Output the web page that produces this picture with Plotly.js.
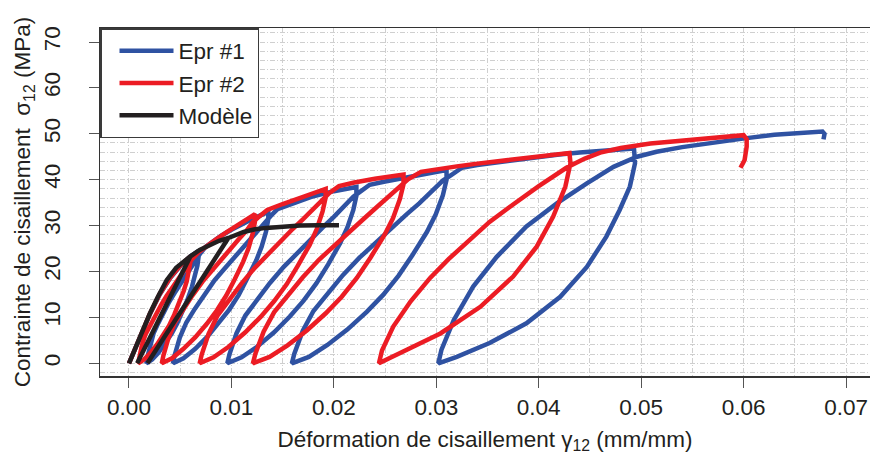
<!DOCTYPE html>
<html>
<head>
<meta charset="utf-8">
<script src="https://cdn.plot.ly/plotly-3.0.1.min.js"></script>
<style>html,body{margin:0;padding:0;background:#fff;}#chart{width:870px;height:458px;}</style>
</head>
<body>
<div id="chart"></div>
<script>
// ---- Data: [strain gamma12, stress sigma12 (MPa)] ----
const seriesNames = ["Epr #1", "Epr #2", "Modèle"];
const seriesColors = ["#2f52a2", "#ec1c24", "#231f20"];

// Epr #1 (blue): loading envelope with unload / reload loops
const epr1Points = [
  [0,0],[0.001,5.3],[0.002,10.5],[0.003,15.0],[0.004,18.5],[0.005,21.2],[0.006,23.3],[0.0068,24.5],
  [0.0068,23.3],[0.00668,21.3],[0.00644,18.9],[0.00615,16.7],[0.00568,13.7],[0.00522,11.1],[0.00471,8.7],[0.00417,6.5],[0.00354,4.3],[0.00287,2.3],[0.00226,0.8],[0.0017,0],
  [0.00178,1.2],[0.00206,4.1],[0.00241,6.6],[0.00287,8.8],[0.00338,11.1],[0.00393,13.4],[0.00445,15.3],[0.00498,17.2],[0.00547,18.9],[0.00591,20.3],[0.00634,21.8],[0.00668,23.2],[0.00695,23.9],
  [0.0075,25.4],[0.008,26.3],[0.009,27.8],[0.010,29.1],[0.011,30.3],[0.012,31.4],[0.013,32.4],[0.0136,33.0],
  [0.0136,31.4],[0.01338,28.7],[0.01295,25.4],[0.01242,22.4],[0.01155,18.5],[0.01072,14.9],[0.00979,11.7],[0.0088,8.8],[0.00765,5.8],[0.00644,3.1],[0.00532,1.1],[0.0043,0],
  [0.00445,1.7],[0.00496,5.6],[0.0056,8.9],[0.00644,11.9],[0.00737,15.0],[0.00836,18.1],[0.00932,20.6],[0.01028,23.1],[0.01118,25.4],[0.01197,27.4],[0.01276,29.4],[0.01338,31.2],[0.01388,32.2],
  [0.0145,33.6],[0.016,34.9],[0.018,36.4],[0.020,37.5],[0.0222,38.4],
  [0.0222,36.5],[0.0219,33.4],[0.02132,29.6],[0.0206,26.1],[0.01943,21.5],[0.01829,17.4],[0.01703,13.6],[0.0157,10.2],[0.01414,6.7],[0.0125,3.6],[0.01099,1.3],[0.0096,0],
  [0.0098,1.9],[0.01049,6.5],[0.01136,10.4],[0.0125,13.8],[0.01376,17.5],[0.01511,21.0],[0.0164,24.0],[0.0177,26.9],[0.01892,29.6],[0.0200,31.9],[0.02107,34.2],[0.0219,36.3],[0.02258,37.4],
  [0.0235,38.9],[0.025,39.6],[0.027,40.5],[0.029,41.3],[0.031,42.1],
  [0.0310,40.0],[0.03064,36.6],[0.02994,32.4],[0.02908,28.6],[0.02768,23.6],[0.02632,19.1],[0.02481,14.9],[0.02321,11.2],[0.02134,7.4],[0.01937,4.0],[0.01756,1.4],[0.0159,0],
  [0.01614,2.1],[0.01697,7.1],[0.01801,11.4],[0.01937,15.2],[0.02088,19.2],[0.0225,23.0],[0.02405,26.3],[0.02561,29.5],[0.02707,32.4],[0.02836,34.9],[0.02964,37.5],[0.03064,39.8],[0.03145,41.0],
  [0.0325,42.6],[0.034,43.2],[0.036,43.8],[0.038,44.4],[0.040,45.0],[0.042,45.5],[0.044,45.9],[0.046,46.3],[0.048,46.6],[0.0493,46.8],
  [0.0494,43.6],[0.0489,38.5],[0.0479,33.4],[0.0466,27.6],[0.0447,21.0],[0.0421,14.5],[0.0388,8.7],[0.0352,4.4],[0.0320,1.4],[0.0302,0],
  [0.0305,2.9],[0.0317,9.4],[0.0336,16.7],[0.0359,23.2],[0.0388,29.8],[0.0418,34.9],[0.0447,39.2],[0.0473,42.8],[0.0496,45.0],[0.0515,46.1],
  [0.0540,47.1],[0.057,48.1],[0.0601,49.0],[0.063,49.8],[0.066,50.4],[0.0672,50.6],[0.0677,50.5],[0.0679,50.0],[0.0679,49.4],[0.0678,48.8]
];

// Epr #2 (red)
const epr2Points = [
  [0,0],[0.001,5.4],[0.002,10.6],[0.003,15.1],[0.004,18.6],[0.005,21.3],[0.0060,23.3],
  [0.0060,22.1],[0.00588,20.3],[0.00564,17.9],[0.00535,15.8],[0.00488,13.0],[0.00442,10.6],[0.00391,8.2],[0.00337,6.2],[0.00274,4.1],[0.00207,2.2],[0.00146,0.8],[0.0009,0],
  [0.00098,1.2],[0.00126,3.9],[0.00161,6.3],[0.00207,8.4],[0.00258,10.6],[0.00313,12.7],[0.00365,14.6],[0.00418,16.3],[0.00467,17.9],[0.00511,19.3],[0.00554,20.7],[0.00588,22.0],[0.00615,22.7],
  [0.0068,24.2],[0.0075,25.4],[0.0085,27.0],[0.0095,28.5],[0.0105,29.9],[0.0115,31.3],[0.0123,32.5],
  [0.0123,30.9],[0.01208,28.3],[0.01166,25.0],[0.01114,22.1],[0.0103,18.2],[0.00948,14.7],[0.00857,11.5],[0.0076,8.6],[0.00648,5.7],[0.00529,3.1],[0.0042,1.1],[0.0032,0],
  [0.00335,1.6],[0.00385,5.5],[0.00447,8.8],[0.00529,11.7],[0.0062,14.8],[0.00718,17.8],[0.00811,20.3],[0.00905,22.8],[0.00993,25.0],[0.01071,27.0],[0.01148,28.9],[0.01208,30.7],[0.01257,31.7],
  [0.0135,33.4],[0.015,34.7],[0.0165,35.9],[0.018,37.1],[0.0192,38.0],
  [0.0192,36.1],[0.0189,33.1],[0.01834,29.3],[0.01764,25.8],[0.01649,21.3],[0.01539,17.2],[0.01416,13.5],[0.01285,10.1],[0.01133,6.7],[0.00973,3.6],[0.00825,1.3],[0.0069,0],
  [0.0071,1.9],[0.00777,6.4],[0.00862,10.3],[0.00973,13.7],[0.01096,17.3],[0.01228,20.8],[0.01354,23.8],[0.01481,26.6],[0.0160,29.3],[0.01705,31.5],[0.01809,33.8],[0.0189,35.9],[0.01957,37.1],
  [0.0205,38.6],[0.022,39.4],[0.024,40.2],[0.0255,40.7],[0.0268,41.1],
  [0.0268,39.0],[0.02645,35.8],[0.02577,31.6],[0.02493,27.9],[0.02357,23.0],[0.02224,18.6],[0.02077,14.5],[0.01921,10.9],[0.01739,7.2],[0.01548,3.9],[0.01372,1.4],[0.0121,0],
  [0.01234,2.1],[0.01314,6.9],[0.01416,11.1],[0.01548,14.8],[0.01695,18.7],[0.01852,22.5],[0.02004,25.7],[0.02155,28.8],[0.02298,31.6],[0.02423,34.1],[0.02548,36.6],[0.02645,38.8],[0.02724,40.1],
  [0.0285,41.7],[0.030,42.3],[0.032,42.9],[0.034,43.5],[0.036,44.0],[0.038,44.6],[0.040,45.0],[0.0415,45.4],[0.0430,45.8],
  [0.0431,43.6],[0.0426,38.5],[0.0414,31.9],[0.0398,25.4],[0.0375,18.9],[0.0343,12.3],[0.0304,6.5],[0.0265,2.2],[0.0244,0],
  [0.0247,2.8],[0.0258,8.0],[0.0275,13.5],[0.0294,18.6],[0.0312,22.7],[0.0330,26.4],[0.0352,30.8],[0.0375,34.6],[0.0400,38.6],[0.0427,42.6],[0.0445,44.6],[0.0460,45.9],
  [0.0480,46.9],[0.0509,47.9],[0.055,48.8],[0.0585,49.4],[0.0600,49.7],
  [0.0603,48.8],[0.0603,47.2],[0.0601,44.3],[0.0597,42.6]
];

// Modèle (black)
const modelPoints = [
  [0,0],[0.0005,2.7],[0.001,5.4],[0.0015,8.1],[0.00205,10.9],[0.0028,14.4],[0.00368,18.1],[0.0046,20.8],[0.0053,22.2],[0.0060,23.3],
  [0.0008,0],[0.0060,23.3],
  [0.0069,24.7],[0.0080,26.0],[0.0088,26.7],[0.0097,27.3],
  [0.0018,0],[0.0097,27.3],
  [0.0112,28.6],[0.0123,29.2],[0.0134,29.5],[0.0150,29.8],[0.0167,30.0],[0.0185,30.1],[0.0205,30.1]
];

// Axis ticks
const xTickVals = [0, 0.01, 0.02, 0.03, 0.04, 0.05, 0.06, 0.07];
const xTickText = ["0.00", "0.01", "0.02", "0.03", "0.04", "0.05", "0.06", "0.07"];
const yTickVals = [0, 10, 20, 30, 40, 50, 60, 70];
const yTickText = ["0", "10", "20", "30", "40", "50", "60", "70"];

const allSeries = [epr1Points, epr2Points, modelPoints];
const traces = allSeries.map((pts, i) => ({
  type: "scatter",
  mode: "lines",
  name: seriesNames[i],
  x: pts.map(p => p[0]),
  y: pts.map(p => p[1]),
  line: {color: seriesColors[i], width: 4.5},
  hoverinfo: "skip"
}));

const gridDash = "5px,2px,1px,2px";
const gridColor = "#cfcfcf";
const font = "Liberation Sans, Arial, Helvetica, sans-serif";

const layout = {
  width: 870,
  height: 458,
  margin: {l: 100, r: 0, t: 28, b: 82, pad: 0},
  paper_bgcolor: "#ffffff",
  plot_bgcolor: "#ffffff",
  font: {family: font, size: 22.5, color: "#231f20"},
  showlegend: true,
  legend: {
    x: 0, y: 1, xanchor: "left", yanchor: "top",
    bgcolor: "#ffffff", bordercolor: "#3a3a3a", borderwidth: 1.5,
    font: {family: font, size: 22.5, color: "#231f20"},
    itemwidth: 54, indentation: 13, tracegroupgap: 0
  },
  xaxis: {
    range: [-0.00283, 0.07234],
    tickmode: "array", tickvals: xTickVals, ticktext: xTickText,
    ticks: "outside", ticklen: 10, tickwidth: 1, tickcolor: "#555",
    showline: true, mirror: true, linecolor: "#333", linewidth: 1.5,
    showgrid: true, gridcolor: gridColor, griddash: gridDash, gridwidth: 1,
    zeroline: false,
    minor: {tickmode: "linear", tick0: 0, dtick: 0.005, showgrid: true, gridcolor: gridColor, griddash: gridDash, gridwidth: 1, ticks: ""},
    tickfont: {size: 22.5},
    title: {text: "Déformation de cisaillement γ<sub>12</sub> (mm/mm)", font: {size: 22.5}, standoff: 12}
  },
  yaxis: {
    range: [-2.77, 73.05],
    tickmode: "array", tickvals: yTickVals, ticktext: yTickText,
    tickangle: -90,
    ticklabelstandoff: 20,
    ticks: "outside", ticklen: 10, tickwidth: 1, tickcolor: "#555",
    showline: true, mirror: false, linecolor: "#333", linewidth: 1.5,
    showgrid: true, gridcolor: gridColor, griddash: gridDash, gridwidth: 1,
    zeroline: false,
    minor: {tickmode: "linear", tick0: 0, dtick: 2, showgrid: true, gridcolor: gridColor, griddash: gridDash, gridwidth: 1, ticks: ""},
    tickfont: {size: 22.5},
    title: {text: "Contrainte de cisaillement  σ<sub>12</sub> (MPa)", font: {size: 22.5}, standoff: 2}
  }
};

Plotly.newPlot("chart", traces, layout, {displayModeBar: false, staticPlot: true});
</script>
</body>
</html>
